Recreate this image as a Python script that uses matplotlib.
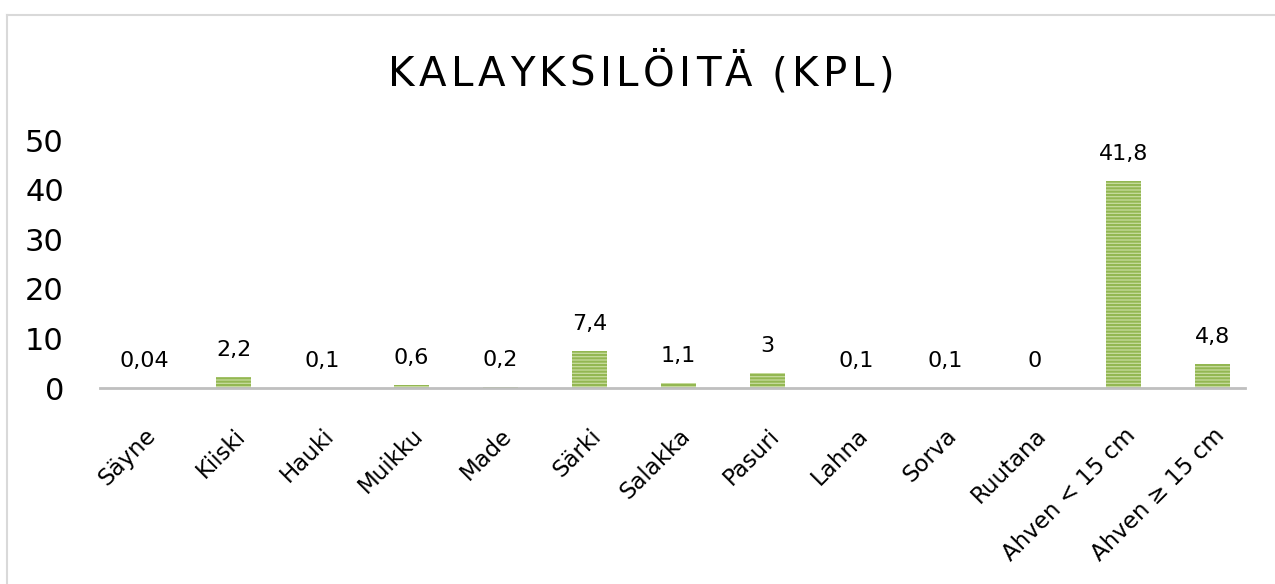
import matplotlib.pyplot as plt
from matplotlib.lines import Line2D

categories = ["Säyne", "Kiiski", "Hauki", "Muikku", "Made", "Särki", "Salakka",
              "Pasuri", "Lahna", "Sorva", "Ruutana", "Ahven < 15 cm", "Ahven ≥ 15 cm"]
values = [0.04, 2.2, 0.1, 0.6, 0.2, 7.4, 1.1, 3, 0.1, 0.1, 0, 41.8, 4.8]
value_labels = ["0,04", "2,2", "0,1", "0,6", "0,2", "7,4", "1,1", "3", "0,1", "0,1", "0", "41,8", "4,8"]
yticks = [0, 10, 20, 30, 40, 50]
title = "KALAYKSILÖITÄ (KPL)"

plt.rcParams['font.family'] = ['DejaVu Sans']
plt.rcParams['hatch.linewidth'] = 1.5

fig = plt.figure(figsize=(12.75, 5.84), dpi=100)
ax = fig.add_axes([100 / 1275, 1 - 388 / 584, 1157 / 1275, 248 / 584])

x = list(range(len(categories)))
ax.bar(x, values, width=0.39, color='#c8dc9f', edgecolor='#93b752',
       linewidth=0, hatch='-----')

for xi, v, lab in zip(x, values, value_labels):
    ax.annotate(lab, (xi, v), xytext=(0, 27), textcoords='offset pixels',
                ha='center', va='center', fontsize=16, color='#000000')

ax.set_xlim(-0.5, len(categories) - 0.5)
ax.set_ylim(0, 50)
ax.set_yticks(yticks)
ax.set_yticklabels([str(t) for t in yticks], fontsize=22)
ax.set_xticks(x)
ax.set_xticklabels(categories, rotation=45, ha='right', rotation_mode='anchor', fontsize=16.5)
ax.tick_params(axis='both', length=0)
ax.tick_params(axis='y', pad=26)
ax.tick_params(axis='x', pad=26)

for s in ['top', 'right', 'left']:
    ax.spines[s].set_visible(False)
ax.spines['bottom'].set_color('#bfbfbf')
ax.spines['bottom'].set_linewidth(2)
ax.spines['bottom'].set_bounds(-0.5, 12.37)

# title with letter spacing
fig.canvas.draw()
renderer = fig.canvas.get_renderer()
fs = 29
track = 4.5
texts = []
total = 0
for ch in title:
    t = fig.text(0, 0, ch, fontsize=fs, transform=None)
    w = t.get_window_extent(renderer).width if ch != ' ' else fs * 0.35
    texts.append((t, w))
    total += w + track
total -= track
xpos = 641 - total / 2
for t, w in texts:
    t.set_position((xpos, 584 - 86))
    xpos += w + track

# chart border
fig.add_artist(Line2D([7 / 1275, 7 / 1275], [0, 1 - 15 / 584], color='#d9d9d9', lw=1.5))
fig.add_artist(Line2D([7 / 1275, 1], [1 - 15 / 584, 1 - 15 / 584], color='#d9d9d9', lw=1.5))

fig.savefig('out.png', dpi=100)
